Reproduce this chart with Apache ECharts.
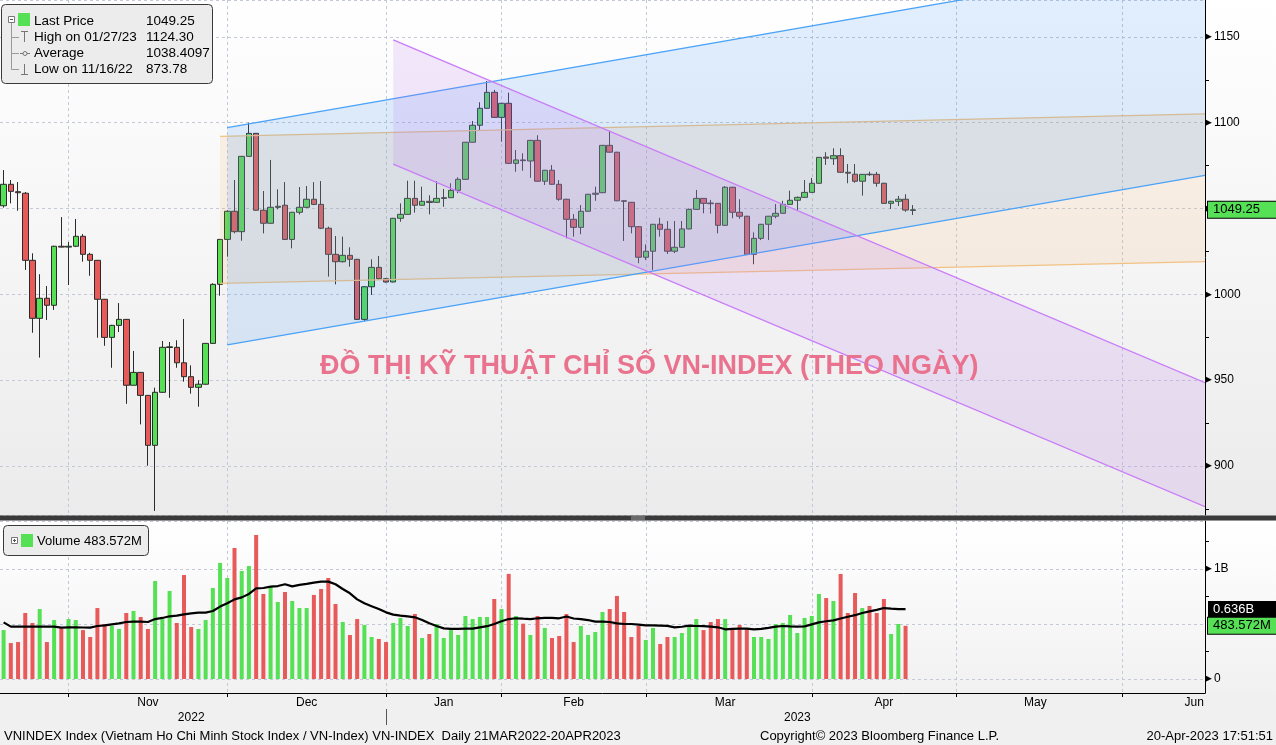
<!DOCTYPE html>
<html><head><meta charset="utf-8">
<script src="https://cdn.jsdelivr.net/npm/echarts@6/dist/echarts.min.js"></script>
<style>html,body{margin:0;padding:0;background:#f0f0f0;}#c{width:1276px;height:745px;}</style>
</head><body><div id="c"></div><script>
// ---------- DATA ----------
const tradingDays = [
'2022-10-18','2022-10-19','2022-10-20','2022-10-21','2022-10-24','2022-10-25','2022-10-26','2022-10-27','2022-10-28','2022-10-31',
'2022-11-01','2022-11-02','2022-11-03','2022-11-04','2022-11-07','2022-11-08','2022-11-09','2022-11-10','2022-11-11','2022-11-14',
'2022-11-15','2022-11-16','2022-11-17','2022-11-18','2022-11-21','2022-11-22','2022-11-23','2022-11-24','2022-11-25','2022-11-28',
'2022-11-29','2022-11-30','2022-12-01','2022-12-02','2022-12-05','2022-12-06','2022-12-07','2022-12-08','2022-12-09','2022-12-12',
'2022-12-13','2022-12-14','2022-12-15','2022-12-16','2022-12-19','2022-12-20','2022-12-21','2022-12-22','2022-12-23','2022-12-26',
'2022-12-27','2022-12-28','2022-12-29','2022-12-30','2023-01-03','2023-01-04','2023-01-05','2023-01-06','2023-01-09','2023-01-10',
'2023-01-11','2023-01-12','2023-01-13','2023-01-16','2023-01-17','2023-01-18','2023-01-19','2023-01-27','2023-01-30','2023-01-31',
'2023-02-01','2023-02-02','2023-02-03','2023-02-06','2023-02-07','2023-02-08','2023-02-09','2023-02-10','2023-02-13','2023-02-14',
'2023-02-15','2023-02-16','2023-02-17','2023-02-20','2023-02-21','2023-02-22','2023-02-23','2023-02-24','2023-02-27','2023-02-28',
'2023-03-01','2023-03-02','2023-03-03','2023-03-06','2023-03-07','2023-03-08','2023-03-09','2023-03-10','2023-03-13','2023-03-14',
'2023-03-15','2023-03-16','2023-03-17','2023-03-20','2023-03-21','2023-03-22','2023-03-23','2023-03-24','2023-03-27','2023-03-28',
'2023-03-29','2023-03-30','2023-03-31','2023-04-03','2023-04-04','2023-04-05','2023-04-06','2023-04-07','2023-04-10','2023-04-11',
'2023-04-12','2023-04-13','2023-04-14','2023-04-17','2023-04-18','2023-04-19','2023-04-20','2023-04-21','2023-04-24','2023-04-25',
'2023-04-26','2023-04-27','2023-04-28','2023-05-01','2023-05-02','2023-05-03','2023-05-04','2023-05-05','2023-05-08','2023-05-09',
'2023-05-10','2023-05-11','2023-05-12','2023-05-15','2023-05-16','2023-05-17','2023-05-18','2023-05-19','2023-05-22','2023-05-23',
'2023-05-24','2023-05-25','2023-05-26','2023-05-29','2023-05-30','2023-05-31','2023-06-01','2023-06-02','2023-06-05','2023-06-06',
'2023-06-07','2023-06-08','2023-06-09','2023-06-12','2023-06-13','2023-06-14','2023-06-15'];

const opens = [1051.6,1064.1,1059.8,1058.9,1019.8,986.0,997.7,993.6,1028.0,1027.5,
1028.0,1033.8,1023.3,1019.8,997.1,974.9,981.9,985.4,947.0,954.5,
941.1,912.0,942.9,969.0,969.1,960.1,952.0,945.8,947.6,971.4,
1005.8,1032.0,1048.4,1036.5,1080.4,1093.8,1049.0,1041.4,1050.7,1051.9,
1032.0,1047.8,1050.7,1055.4,1052.4,1038.5,1023.3,1019.0,1022.7,1020.4,
985.4,1004.4,1015.7,1009.1,1007.2,1044.3,1046.6,1055.9,1051.9,1054.2,
1053.6,1055.9,1056.3,1060.6,1067.0,1088.6,1098.5,1108.4,1117.7,1103.1,
1111.3,1076.3,1078.3,1077.7,1089.7,1065.9,1072.3,1064.1,1055.4,1043.7,
1039.0,1048.4,1058.3,1059.2,1086.8,1082.8,1054.5,1053.6,1039.4,1021.6,
1025.1,1040.8,1037.9,1025.1,1027.4,1038.1,1049.5,1055.9,1053.2,1053.0,
1040.2,1062.4,1047.8,1045.5,1023.3,1032.6,1040.8,1045.5,1047.2,1052.4,
1054.8,1056.5,1059.4,1064.7,1080.0,1079.0,1080.8,1071.1,1070.0,1065.9,
1070.0,1069.9,1064.7,1053.0,1054.2,1055.4,1048.9];
const closes = [1064.1,1060.0,1059.2,1019.8,986.0,997.7,993.6,1028.0,1027.5,1028.0,
1033.8,1023.3,1019.8,997.1,974.9,981.9,985.4,947.0,954.5,941.1,
912.0,942.9,969.1,969.4,960.1,952.0,945.8,947.6,971.4,1005.8,
1032.0,1048.4,1036.5,1080.4,1093.8,1049.0,1041.4,1050.7,1051.3,1032.0,
1047.8,1050.7,1055.4,1052.4,1038.5,1023.3,1019.0,1022.7,1020.4,985.4,
1004.4,1015.7,1009.1,1007.2,1044.3,1046.6,1055.9,1051.9,1054.2,1053.5,
1055.9,1056.3,1060.6,1067.0,1088.6,1098.5,1108.4,1117.7,1103.1,1111.3,
1076.3,1078.3,1077.9,1089.7,1065.9,1072.3,1064.1,1055.4,1043.7,1039.0,
1048.4,1058.3,1058.9,1086.8,1082.8,1054.5,1054.2,1039.4,1021.6,1025.1,
1040.8,1037.9,1025.1,1027.4,1038.1,1049.5,1055.9,1053.0,1052.8,1040.2,
1062.4,1047.8,1045.5,1023.3,1032.6,1040.8,1045.5,1047.2,1052.4,1054.8,
1056.5,1059.4,1064.7,1079.8,1079.3,1080.8,1071.1,1070.6,1065.9,1069.9,
1069.7,1064.7,1053.0,1054.2,1055.4,1049.1,1049.25];
const lows = [1050.5,1053.0,1048.7,1014.2,977.6,963.1,985.0,990.9,1027.3,1005.4,
1027.5,1019.0,1010.8,974.7,970.0,957.2,978.0,936.2,947.0,924.2,
900.1,873.78,942.7,939.7,957.2,949.1,942.1,934.5,947.4,971.2,
999.2,1021.9,1035.5,1031.2,1080.2,1048.8,1035.5,1041.2,1049.5,1031.8,
1026.8,1046.5,1050.2,1052.0,1038.0,1010.3,1005.8,1018.5,1016.1,985.0,
984.4,999.6,1008.5,1006.8,1007.0,1042.3,1046.4,1047.6,1051.7,1046.6,
1053.4,1051.0,1056.1,1058.9,1066.8,1088.4,1095.2,1108.2,1102.9,1088.9,
1076.1,1071.4,1072.0,1067.9,1065.7,1063.7,1063.9,1054.5,1032.6,1033.6,
1035.0,1048.2,1054.5,1059.0,1082.6,1054.3,1031.1,1035.5,1018.1,1020.0,
1014.2,1033.6,1023.5,1024.0,1027.2,1037.9,1049.3,1047.2,1047.0,1035.5,
1040.0,1044.3,1044.0,1023.0,1017.5,1031.6,1031.6,1044.3,1047.0,1052.2,
1049.1,1056.3,1059.2,1064.5,1075.4,1075.4,1070.9,1064.7,1065.0,1057.5,
1069.0,1062.7,1052.8,1049.7,1051.5,1048.1,1046.2];
const highs = [1072.4,1066.6,1065.4,1059.6,1023.9,1011.7,1004.8,1028.3,1045.0,1030.5,
1043.9,1035.1,1024.2,1019.9,997.3,982.2,994.9,985.6,967.0,954.7,
941.3,945.6,972.8,972.2,973.2,985.6,958.6,949.9,971.6,1006.4,
1032.2,1049.0,1066.6,1080.6,1100.0,1094.0,1060.2,1078.3,1061.2,1065.4,
1048.0,1062.5,1063.1,1065.4,1066.0,1039.4,1034.0,1033.6,1027.4,1020.6,
1004.6,1020.4,1022.3,1009.5,1044.5,1053.0,1066.2,1066.2,1062.7,1057.7,
1065.9,1061.4,1064.7,1068.2,1088.8,1101.0,1111.9,1124.3,1119.1,1111.5,
1117.5,1084.1,1082.2,1090.0,1092.7,1072.5,1075.3,1066.6,1055.6,1046.8,
1052.0,1058.5,1062.7,1087.0,1095.3,1083.0,1054.7,1053.8,1039.6,1029.1,
1041.0,1044.6,1042.7,1042.7,1042.7,1050.0,1060.8,1056.1,1055.0,1053.2,
1063.1,1062.6,1055.4,1045.7,1036.1,1041.0,1045.7,1052.6,1054.5,1060.4,
1057.0,1066.6,1067.8,1080.0,1082.8,1085.1,1085.1,1075.9,1075.9,1070.1,
1071.5,1071.3,1065.0,1054.5,1057.3,1058.3,1052.0];
// volume in millions of shares
const volumes = [445,327,336,600,509,636,336,536,461,545,
536,445,382,645,500,482,455,600,618,564,
455,891,545,800,509,945,473,455,536,827,
1055,918,1191,982,1027,1309,773,845,700,791,
709,645,645,764,818,918,682,518,400,545,
491,382,364,336,509,555,482,591,373,409,
500,373,445,400,573,545,564,564,727,636,
955,573,503,400,573,464,373,391,591,336,
482,400,427,609,636,755,609,382,482,355,
464,318,382,382,418,473,545,445,518,545,
545,445,491,455,382,382,364,500,509,582,
418,555,573,773,736,709,955,600,782,645,
664,600,727,409,500,483.572,null];
const volumeAvg = [515,476,476,476,476,476,476,476,467,470,
470,468,467,482,488,497,506,518,521,521,
518,545,555,570,576,588,597,603,603,618,
658,688,724,742,773,824,827,839,845,861,
842,855,864,876,885,885,861,818,779,724,
688,661,636,606,585,576,570,561,536,506,
482,460,455,455,458,458,470,480,500,525,
545,552,548,545,552,555,555,552,568,550,
545,536,521,521,518,505,500,500,495,488,
487,485,483,470,475,485,482,480,476,470,
452,455,458,458,452,455,465,476,482,478,
476,478,497,515,525,533,550,566,580,600,
615,628,645,640,636,636,null];

const monthEndDates = ['2022-10-31','2022-11-30','2022-12-30','2023-01-31','2023-02-28','2023-03-31','2023-04-28','2023-05-31'];
const monthLabelDates = ['2022-11-15','2022-12-15','2023-01-12','2023-02-14','2023-03-15','2023-04-14','2023-05-15','2023-06-14'];
const monthLabelTexts = ['Nov','Dec','Jan','Feb','Mar','Apr','May','Jun'];
const yearLabelDates = ['2022-11-23','2023-03-29'];
const yearLabelTexts = ['2022','2023'];
const yearBoundaryDates = ['2022-12-30'];

// trend channels (trading-day index, price)
const channelNames = ['orange', 'blue', 'purple'];
const channelStart = [30, 31, 54];
const channelEnd = [166.5, 166.5, 166.5];
const channelUpperStart = [1092.0, 1097.1, 1148.3];
const channelUpperEnd = [1105.1, 1196.3, 948.5];
const channelLowerStart = [1006.4, 970.5, 1075.9];
const channelLowerEnd = [1019.0, 1069.3, 876.2];

const lastPrice = 1049.25;
const lastVolume = 483.572;
const lastVolumeAvg = 636;
const priceTicks = [900, 950, 1000, 1050, 1100, 1150];

// ---------- CHART ----------
const FONT = '"Liberation Sans", Arial, sans-serif';
const GREEN = '#55e055', RED = '#e85a5a';
const chart = echarts.init(document.getElementById('c'), null, {width: 1276, height: 745});
const monthLabelMap = {}; monthLabelDates.forEach((d, i) => monthLabelMap[d] = monthLabelTexts[i]);
const yearLabelMap = {}; yearLabelDates.forEach((d, i) => yearLabelMap[d] = yearLabelTexts[i]);
const isMonthEnd = (i, v) => monthEndDates.indexOf(v) >= 0;
const candleData = opens.map((o, i) => [o, closes[i], lows[i], highs[i]]);
const channelData = channelNames.map((n, i) => [channelStart[i], channelEnd[i], channelUpperStart[i], channelUpperEnd[i], channelLowerStart[i], channelLowerEnd[i]]);
const channelStyle = {
  orange: {fill: 'rgba(240,175,100,0.15)', line: '#f2c283'},
  blue: {fill: 'rgba(60,150,245,0.16)', line: '#4aa2f8'},
  purple: {fill: 'rgba(185,110,245,0.16)', line: '#c97cf8'}
};
const dashed = {color: '#c3c9d6', type: [3, 3], width: 1};
const hiddenLine = {color: 'rgba(0,0,0,0)', width: 0};
const grad = (a, b) => new echarts.graphic.LinearGradient(0, 0, 0, 1, [{offset: 0, color: a}, {offset: 1, color: b}]);
const txt = (x, y, text, size, align) => ({type: 'text', x: x, y: y, z: 101,
  style: {text: text, font: size + 'px ' + FONT, fill: '#000', align: align || 'left', textAlign: align || 'left', verticalAlign: 'middle', textVerticalAlign: 'middle'}});
const tag = (text, bg, fg, border, padRight) => ({show: true, position: 'end', distance: 3, formatter: text, color: fg, fontSize: 13, fontFamily: FONT,
  backgroundColor: bg, borderColor: border, borderWidth: border ? 1 : 0, padding: [2, padRight, 1, 5]});

const option = {
  animation: false,
  backgroundColor: '#f0f0f0',
  title: [{
    text: 'ĐỒ THỊ KỸ THUẬT CHỈ SỐ VN-INDEX (THEO NGÀY)', left: 320, top: 353, padding: 0,
    textStyle: {color: '#e9738f', fontSize: 27, fontWeight: 'bold', fontFamily: FONT}
  }],
  grid: [
    {left: -2, right: 71, top: 0, height: 515},
    {left: -2, right: 71, top: 521, height: 172}
  ],
  xAxis: [
    {type: 'category', gridIndex: 0, data: tradingDays, boundaryGap: true,
      axisLine: {show: false, onZero: false}, axisTick: {show: false}, axisLabel: {show: false},
      splitLine: {show: true, interval: isMonthEnd, alignWithLabel: true, lineStyle: dashed}},
    {type: 'value', gridIndex: 0, min: -0.5, max: 166.5, show: false, axisLine: {onZero: false}},
    {type: 'category', gridIndex: 1, data: tradingDays, boundaryGap: true,
      axisLine: {show: true, onZero: false, lineStyle: {color: '#000', width: 1}},
      axisTick: {show: true, interval: isMonthEnd, alignWithLabel: true, length: 4, lineStyle: {color: '#000'}},
      axisLabel: {show: true, interval: (i, v) => monthLabelMap[v] !== undefined, formatter: v => monthLabelMap[v] || '',
        margin: 4, fontSize: 12, fontFamily: FONT, color: '#000'},
      splitLine: {show: true, interval: isMonthEnd, alignWithLabel: true, lineStyle: dashed}},
    {type: 'category', gridIndex: 1, data: tradingDays, boundaryGap: true, position: 'bottom', offset: 16,
      axisLine: {show: false, onZero: false},
      axisTick: {show: true, interval: (i, v) => yearBoundaryDates.indexOf(v) >= 0, alignWithLabel: true, length: 16, lineStyle: {color: '#555'}},
      axisLabel: {show: true, interval: (i, v) => yearLabelMap[v] !== undefined, formatter: v => yearLabelMap[v] || '',
        margin: 3, fontSize: 12, fontFamily: FONT, color: '#000'},
      splitLine: {show: false}}
  ],
  yAxis: [
    {type: 'value', gridIndex: 0, position: 'right', min: 871.4, max: 1171.5, splitNumber: 6,
      axisLine: {show: true, onZero: false, lineStyle: {color: '#000'}},
      axisTick: {show: false},
      minorTick: {show: true, splitNumber: 2, length: 4, lineStyle: {color: '#000'}},
      axisLabel: {margin: 0, showMinLabel: false, showMaxLabel: false,
        formatter: v => priceTicks.indexOf(Math.round(v * 100) / 100) >= 0 ? '{t|▶}{n|' + v + '}' : '',
        rich: {t: {fontSize: 9, color: '#000', fontFamily: 'DejaVu Sans', padding: [0, 2, 0, 0]}, n: {fontSize: 12, color: '#000', fontFamily: FONT}}},
      splitLine: {show: true, lineStyle: dashed}},
    {type: 'value', gridIndex: 1, position: 'right', min: -127, max: 1436, splitNumber: 3,
      axisLine: {show: true, onZero: false, lineStyle: {color: '#000'}},
      axisTick: {show: false},
      minorTick: {show: true, splitNumber: 2, length: 4, lineStyle: {color: '#000'}},
      axisLabel: {margin: 0, showMinLabel: false, showMaxLabel: false,
        formatter: v => v === 1000 ? '{t|▶}{n|1B}' : (v === 0 ? '{t|▶}{n|0}' : ''),
        rich: {t: {fontSize: 9, color: '#000', fontFamily: 'DejaVu Sans', padding: [0, 2, 0, 0]}, n: {fontSize: 12, color: '#000', fontFamily: FONT}}},
      splitLine: {show: true, lineStyle: dashed}}
  ],
  series: [
    {type: 'candlestick', xAxisIndex: 0, yAxisIndex: 0, data: candleData, barWidth: 6, z: 2, clip: false,
      itemStyle: {color: GREEN, color0: RED, borderColor: '#2b2b2b', borderColor0: '#2b2b2b', borderWidth: 1},
      markLine: {silent: true, symbol: ['none', 'none'], animation: false, lineStyle: hiddenLine,
        data: [{yAxis: lastPrice}], label: tag(String(lastPrice), GREEN, '#000', '#000', 16)}},
    {type: 'custom', xAxisIndex: 1, yAxisIndex: 0, data: channelData, z: 3, clip: true, silent: true,
      renderItem: function (params, api) {
        const x0 = api.value(0), x1 = api.value(1);
        const u0 = api.coord([x0, api.value(2)]), u1 = api.coord([x1, api.value(3)]);
        const l0 = api.coord([x0, api.value(4)]), l1 = api.coord([x1, api.value(5)]);
        const st = channelStyle[channelNames[params.dataIndex]];
        return {type: 'group', children: [
          {type: 'polygon', shape: {points: [u0, u1, l1, l0]}, style: {fill: st.fill}},
          {type: 'polyline', shape: {points: [u0, u1]}, style: {stroke: st.line, lineWidth: 1.3, fill: null}},
          {type: 'polyline', shape: {points: [l0, l1]}, style: {stroke: st.line, lineWidth: 1.3, fill: null}}
        ]};
      }},
    {type: 'bar', xAxisIndex: 2, yAxisIndex: 1, data: volumes, barWidth: 4, z: 2, clip: false,
      itemStyle: {color: p => closes[p.dataIndex] >= opens[p.dataIndex] ? GREEN : RED},
      markLine: {silent: true, symbol: ['none', 'none'], animation: false, lineStyle: hiddenLine,
        data: [{yAxis: lastVolume}], label: tag(lastVolume + 'M', GREEN, '#000', '#000', 6)}},
    {type: 'line', xAxisIndex: 2, yAxisIndex: 1, data: volumeAvg, symbol: 'none', z: 4, clip: false,
      lineStyle: {color: '#000', width: 2.2},
      markLine: {silent: true, symbol: ['none', 'none'], animation: false, lineStyle: hiddenLine,
        data: [{yAxis: lastVolumeAvg}], label: tag((lastVolumeAvg / 1000).toFixed(3) + 'B', '#000', '#fff', null, 22)}}
  ],
  graphic: [
    {type: 'rect', z: -10, shape: {x: 0, y: 0, width: 1276, height: 516}, style: {fill: grad('#ffffff', '#ebebeb')}},
    {type: 'rect', z: -10, shape: {x: 0, y: 521, width: 1276, height: 172}, style: {fill: grad('#ffffff', '#f1f1f1')}},
    {type: 'rect', z: 100, shape: {x: 0, y: 515.5, width: 1276, height: 5}, style: {fill: '#3a3a3a'}},
    {type: 'line', z: 101, shape: {x1: 631, y1: 517, x2: 645, y2: 517}, style: {stroke: '#9a9a9a', lineWidth: 1}},
    {type: 'line', z: 101, shape: {x1: 631, y1: 519, x2: 645, y2: 519}, style: {stroke: '#9a9a9a', lineWidth: 1}},
    // price legend box
    {type: 'rect', z: 100, shape: {x: 1.5, y: 4.5, width: 211, height: 79, r: 4}, style: {fill: '#ececec', stroke: '#3a3a3a', lineWidth: 1}},
    {type: 'rect', z: 101, shape: {x: 8.5, y: 16.5, width: 6, height: 6}, style: {fill: '#fff', stroke: '#777', lineWidth: 1}},
    {type: 'line', z: 101, shape: {x1: 10, y1: 19.5, x2: 13, y2: 19.5}, style: {stroke: '#555', lineWidth: 1}},
    {type: 'rect', z: 101, shape: {x: 18, y: 13, width: 12, height: 13}, style: {fill: GREEN}},
    {type: 'polyline', z: 101, shape: {points: [[11.5, 23], [11.5, 69.5], [19, 69.5]]}, style: {stroke: '#999', lineWidth: 1, fill: null}},
    {type: 'line', z: 101, shape: {x1: 11.5, y1: 37.5, x2: 19, y2: 37.5}, style: {stroke: '#999', lineWidth: 1}},
    {type: 'line', z: 101, shape: {x1: 11.5, y1: 53.5, x2: 19, y2: 53.5}, style: {stroke: '#999', lineWidth: 1}},
    {type: 'line', z: 101, shape: {x1: 21, y1: 31.5, x2: 28, y2: 31.5}, style: {stroke: '#777', lineWidth: 1}},
    {type: 'line', z: 101, shape: {x1: 24.5, y1: 31.5, x2: 24.5, y2: 42}, style: {stroke: '#777', lineWidth: 1}},
    {type: 'line', z: 101, shape: {x1: 20, y1: 53.5, x2: 30, y2: 53.5}, style: {stroke: '#777', lineWidth: 1}},
    {type: 'circle', z: 101, shape: {cx: 25, cy: 53.5, r: 2}, style: {fill: '#ececec', stroke: '#777', lineWidth: 1}},
    {type: 'line', z: 101, shape: {x1: 21, y1: 74.5, x2: 28, y2: 74.5}, style: {stroke: '#777', lineWidth: 1}},
    {type: 'line', z: 101, shape: {x1: 24.5, y1: 64, x2: 24.5, y2: 74.5}, style: {stroke: '#777', lineWidth: 1}},
    txt(34, 21, 'Last Price', 13.5), txt(146, 21, String(lastPrice), 13.5),
    txt(34, 37, 'High on 01/27/23', 13.5), txt(146, 37, '1124.30', 13.5),
    txt(34, 53, 'Average', 13.5), txt(146, 53, '1038.4097', 13.5),
    txt(34, 69, 'Low on 11/16/22', 13.5), txt(146, 69, '873.78', 13.5),
    // volume legend box
    {type: 'rect', z: 100, shape: {x: 3.5, y: 525.5, width: 145, height: 30, r: 4}, style: {fill: '#ececec', stroke: '#3a3a3a', lineWidth: 1}},
    {type: 'rect', z: 101, shape: {x: 11.5, y: 537.5, width: 6, height: 6}, style: {fill: '#fff', stroke: '#777', lineWidth: 1}},
    {type: 'line', z: 101, shape: {x1: 13, y1: 540.5, x2: 16, y2: 540.5}, style: {stroke: '#555', lineWidth: 1}},
    {type: 'line', z: 101, shape: {x1: 14.5, y1: 539, x2: 14.5, y2: 542}, style: {stroke: '#555', lineWidth: 1}},
    {type: 'rect', z: 101, shape: {x: 21, y: 534, width: 12, height: 13}, style: {fill: GREEN}},
    txt(37, 541, 'Volume ' + lastVolume + 'M', 13),
    // footer
    txt(4, 736, 'VNINDEX Index (Vietnam Ho Chi Minh Stock Index / VN-Index) VN-INDEX  Daily 21MAR2022-20APR2023', 13),
    txt(760, 736, 'Copyright© 2023 Bloomberg Finance L.P.', 13),
    txt(1273, 736, '20-Apr-2023 17:51:51', 13, 'right')
  ]
};
chart.setOption(option);
</script></body></html>
